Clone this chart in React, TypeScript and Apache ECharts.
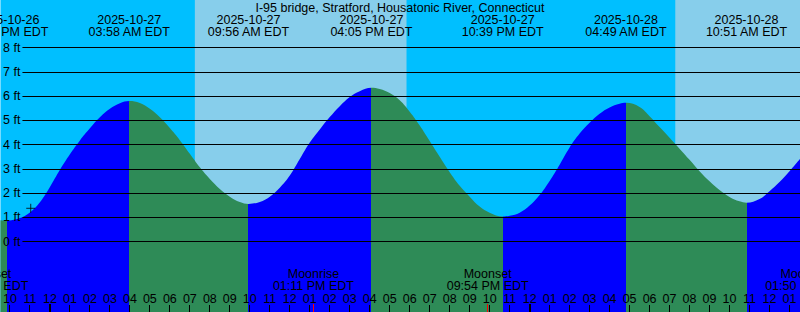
import React, { useEffect, useRef } from 'react';
import * as echarts from 'echarts';

const TITLE = 'I-95 bridge, Stratford, Housatonic River, Connecticut';
const FONT = 'Liberation Sans';
const FS = 12.5;

// time axis: hours since 2025-10-27 00:00 EDT
const X_MIN = -2.475;
const X_MAX = 37.525;
const Y_MIN = -2.907;
const Y_MAX = 9.959;

// predicted water level (ft)
const tideHours = [
  -2.475, -2.125, -2, -1.5, -1, -0.5, 0, 0.5, 1, 1.5, 2, 2.5, 3, 3.5, 3.967,
  4.5, 5, 5.5, 6, 6.5, 7, 7.5, 8, 8.5, 9, 9.5, 9.933,
  10.5, 11, 11.5, 12, 12.5, 13, 13.5, 14, 14.5, 15, 15.5, 16.083,
  16.5, 17, 17.5, 18, 18.5, 19, 19.5, 20, 20.5, 21, 21.5, 22, 22.65,
  23, 23.5, 24, 24.5, 25, 25.5, 26, 26.5, 27, 27.5, 28, 28.5, 28.817,
  29.5, 30, 30.5, 31, 31.5, 32, 32.5, 33, 33.5, 34, 34.5, 34.85,
  35.5, 36, 36.5, 37, 37.525,
];
const tideFeet = [
  0.88, 0.86, 0.87, 0.97, 1.2, 1.62, 2.25, 2.96, 3.6, 4.17, 4.67, 5.12, 5.47, 5.7, 5.79,
  5.71, 5.47, 5.12, 4.68, 4.18, 3.62, 3.06, 2.58, 2.17, 1.85, 1.63, 1.55,
  1.63, 1.85, 2.22, 2.72, 3.4, 4.08, 4.62, 5.13, 5.58, 5.96, 6.2, 6.34,
  6.29, 6.12, 5.82, 5.35, 4.78, 4.14, 3.49, 2.86, 2.3, 1.85, 1.44, 1.19, 1.03,
  1.06, 1.19, 1.48, 1.92, 2.5, 3.17, 3.88, 4.45, 4.9, 5.27, 5.53, 5.68, 5.72,
  5.55, 5.17, 4.72, 4.28, 3.83, 3.37, 2.9, 2.48, 2.12, 1.84, 1.66, 1.6,
  1.75, 2.07, 2.45, 2.9, 3.4,
];

// high / low tides
const extremeHours = [-2.125, 3.967, 9.933, 16.083, 22.65, 28.817, 34.85];
const extremeFeet = [0.86, 5.79, 1.55, 6.34, 1.03, 5.72, 1.6];
const extremeDates = ['2025-10-26', '2025-10-27', '2025-10-27', '2025-10-27', '2025-10-27', '2025-10-28', '2025-10-28'];
const extremeTimes = ['09:52 PM EDT', '03:58 AM EDT', '09:56 AM EDT', '04:05 PM EDT', '10:39 PM EDT', '04:49 AM EDT', '10:51 AM EDT'];
const extremeIsLow = [true, false, true, false, true, false, true];

// moon events
const moonHours = [-3.13, 13.183, 21.9, 37.833];
const moonNames = ['Moonset', 'Moonrise', 'Moonset', 'Moonrise'];
const moonTimes = ['08:52 PM EDT', '01:11 PM EDT', '09:54 PM EDT', '01:50 PM EDT'];

// daylight (sunrise -> sunset)
const dayStarts = [7.25, 31.285];
const dayEnds = [17.84, X_MAX];

const depthLevels = [0, 1, 2, 3, 4, 5, 6, 7, 8];
const hourTicks = Array.from({ length: 40 }, (_, i) => i - 2);
const nowMarker = [-0.96, 1.37];

const GRID_START = -1.375;

const hourLabel = (h: number) => {
  const hod = ((Math.round(h) % 24) + 24) % 24;
  const h12 = hod % 12 === 0 ? 12 : hod % 12;
  return String(h12).padStart(2, '0');
};

export default function App() {
  const ref = useRef<HTMLDivElement>(null);
  useEffect(() => {
    document.body.style.margin = '0';
    const chart = echarts.init(ref.current!, undefined, { renderer: 'svg' });

    const pieces: any[] = [];
    pieces.push({ lt: extremeHours[0], color: extremeIsLow[0] ? '#2E8B57' : '#0000FF' });
    for (let i = 0; i < extremeHours.length; i++) {
      const color = extremeIsLow[i] ? '#0000FF' : '#2E8B57';
      if (i < extremeHours.length - 1) pieces.push({ gte: extremeHours[i], lt: extremeHours[i + 1], color });
      else pieces.push({ gte: extremeHours[i], color });
    }

    const textStyle = (text: string, x: number, y: number) => ({
      type: 'text',
      x,
      y,
      style: { text, align: 'center', verticalAlign: 'middle', fontSize: FS, fontFamily: FONT, fill: '#000' },
    });

    chart.setOption({
      animation: false,
      textStyle: { fontFamily: FONT, fontSize: FS },
      title: {
        text: TITLE,
        left: 'center',
        top: 1,
        padding: 0,
        textStyle: { fontSize: FS, fontWeight: 'normal', fontFamily: FONT, color: '#000' },
      },
      grid: { left: 0, right: 0, top: 0, bottom: 0, show: true, backgroundColor: '#00BFFF', borderWidth: 0 },
      xAxis: {
        type: 'value',
        min: X_MIN,
        max: X_MAX,
        z: 10,
        axisLine: { show: false },
        axisTick: { show: false },
        splitLine: { show: false },
        axisLabel: {
          customValues: hourTicks,
          inside: true,
          margin: 7,
          formatter: (v: number) => hourLabel(v),
          color: '#000',
          fontSize: FS,
          fontFamily: FONT,
          showMinLabel: true,
          showMaxLabel: true,
        },
      },
      yAxis: { type: 'value', min: Y_MIN, max: Y_MAX, show: false },
      visualMap: { type: 'piecewise', show: false, dimension: 0, seriesIndex: 1, pieces },
      series: [
        {
          name: 'daylight',
          type: 'line',
          data: [],
          silent: true,
          markArea: {
            silent: true,
            itemStyle: { color: '#87CEEB' },
            data: dayStarts.map((s, i) => [{ xAxis: s }, { xAxis: dayEnds[i] }]),
          },
        },
        {
          name: 'tide',
          type: 'line',
          z: 2,
          smooth: 0.4,
          showSymbol: false,
          silent: true,
          lineStyle: { width: 0, opacity: 0 },
          areaStyle: { opacity: 1, origin: 'start' },
          data: tideHours.map((h, i) => [h, tideFeet[i]]),
        },
        {
          name: 'levels',
          type: 'line',
          data: [],
          silent: true,
          markLine: {
            silent: true,
            symbol: ['none', 'none'],
            lineStyle: { color: '#000', width: 1, type: 'solid' },
            label: { show: true, position: 'start', distance: 2, formatter: '{b}', color: '#000', fontSize: FS, fontFamily: FONT },
            data: depthLevels.map((v) => [
              { name: `${v} ft`, coord: [GRID_START, v] },
              { coord: [X_MAX, v] },
            ]),
          },
        },
        {
          name: 'extremes',
          type: 'custom',
          z: 10,
          silent: true,
          data: extremeHours.map((h, i) => [h, extremeFeet[i], i]),
          renderItem: (params: any, api: any) => {
            const i = api.value(2);
            const x = api.coord([api.value(0), 0])[0];
            return {
              type: 'group',
              children: [textStyle(extremeDates[i], x, 19.5), textStyle(extremeTimes[i], x, 31.5)],
            };
          },
        },
        {
          name: 'moon',
          type: 'custom',
          z: 10,
          silent: true,
          data: moonHours.map((h, i) => [h, 0, i]),
          renderItem: (params: any, api: any) => {
            const i = api.value(2);
            const x = api.coord([api.value(0), 0])[0];
            const xs = Math.floor(x) + 0.5;
            return {
              type: 'group',
              children: [
                textStyle(moonNames[i], x, 273.5),
                textStyle(moonTimes[i], x, 285.5),
                { type: 'line', shape: { x1: xs, y1: 304, x2: xs, y2: 312 }, style: { stroke: '#FF0000', lineWidth: 1 } },
              ],
            };
          },
        },
        {
          name: 'hourTicks',
          type: 'custom',
          z: 9,
          silent: true,
          data: hourTicks.map((h) => [h, 0]),
          renderItem: (params: any, api: any) => {
            const h = api.value(0);
            const x = api.coord([h, 0])[0];
            const midnight = ((h % 24) + 24) % 24 === 0;
            const xs = midnight ? Math.round(x) : Math.floor(x) + 0.5;
            return {
              type: 'line',
              shape: { x1: xs, y1: midnight ? 304 : 305, x2: xs, y2: 312 },
              style: { stroke: '#000', lineWidth: midnight ? 2 : 1 },
            };
          },
        },
        {
          name: 'now',
          type: 'scatter',
          z: 11,
          silent: true,
          symbol: 'path://M5,0L5,10M0,5L10,5',
          symbolSize: 9,
          itemStyle: { color: 'rgba(0,0,0,0)', borderColor: '#000', borderWidth: 1 },
          data: [nowMarker],
        },
      ],
    });
    return () => chart.dispose();
  }, []);
  return <div ref={ref} style={{ width: 800, height: 312 }} />;
}
